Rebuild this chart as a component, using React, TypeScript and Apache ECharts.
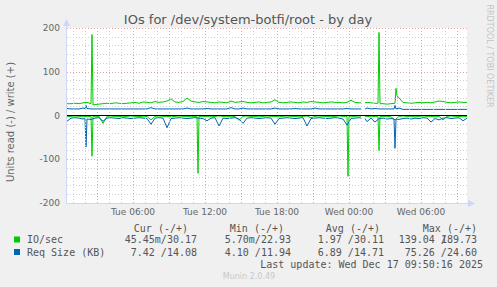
import React, { useEffect, useRef } from "react";
import * as echarts from "echarts";

// time axis in minutes after Tue 00:00; samples every 20 minutes from 00:30 Tue
const T0 = 30;
const STEP = 20;
const X_MIN = 30;
const X_MAX = 2030;

const X_LABEL_TIMES = [360, 720, 1080, 1440, 1800];
const X_LABELS = ["Tue 06:00", "Tue 12:00", "Tue 18:00", "Wed 00:00", "Wed 06:00"];

// IO/sec write (+)
const IO_WRITE: (number | null)[] = [
  27, 27, 28, 27, 29, 30,
  28, 25, 26, 27, 28, 27, 29, 28, 27, 28,
  29, 30, 28, 31, 30, 29, 32, 30, 31, 33, 38, 31, 30, 32, 40,
  33, 31, 30, 32, 31, 30, 29, 31, 30, 29, 33, 30, 31, 32, 30, 29, 30, 31, 29, 30,
  31, 36, 30, 29, 30, 31, 30, 29, 31, 30, 32, 31, 30, 29, 30, 31, 30, 30, 29, 30, 35, 30, 29, 28,
  30, 29, 28, 28, 27, 26, 27, 28, 40, 30, 29, 28, 29, 30, 29, 30, 29, 31, 33, 32, 30, 29, 30, 31, 30, 30,
];
const IO_WRITE_EXTRA: [number, number | null][] = [
  [150, 27], [155, 185], [160, 24],
  [1500, 29], [1510, null], [1520, 29],
  [1585, 28], [1590, 190], [1595, 27],
  [1670, 28], [1675, 62], [1680, 45],
];

// IO/sec read (-)
const IO_READ: (number | null)[] = [
  -3, -2, -1, -2, -3, -2, -2, -3, -2, -18,
  -2, -1, -2, -2, -3, -2, -1, -2, -2, -3, -2,
  -10, -2, -1, -2, -2, -3, -2, -1, -2, -2,
  -3, -2, -1, -2, -2, -3, -2, -1, -2, -2, -3, -2,
  -11, -2, -1, -2, -2, -3, -2, -1, -2, -2, -3, -2, -1, -2, -2, -3, -2, -1,
  -5, -2, -1, -2, -2, -3, -2, -1, -2, -2, -3, -2, -1, -2, -2, -3, -2, -1, -2, -2, -3,
  -10, -2, -1, -2, -2, -3, -2, -1, -2, -2, -3, -2,
  -10, -2, -1, -2, -2, -3, -2,
];
const IO_READ_EXTRA: [number, number | null][] = [
  [150, -2], [155, -93], [160, -2],
  [680, -2], [685, -132], [690, -2],
  [1430, -2], [1435, -139], [1440, -2],
  [1500, -2], [1510, null], [1520, -2],
  [1585, -2], [1590, -80], [1595, -2],
];

// Req Size (KB) write (+)
const REQ_WRITE: (number | null)[] = [
  16, 15, 15, 15, 17, 15, 15, 15, 15, 15,
  15, 15, 15, 15, 15, 15, 15, 15, 15, 15, 15,
  18, 15, 15, 15, 15, 15, 15, 15, 15, 17,
  15, 15, 15, 15, 16, 15, 15, 15, 15, 15, 18, 15,
  15, 17, 15, 15, 15, 15, 15, 15, 15, 17, 15, 15, 15, 15, 16, 15, 15, 15,
  15, 17, 15, 15, 15, 15, 15, 15, 15, 16, 15, 15, 15, 15, 17, 15, 16, 15, 15, 15, 15,
  15, 17, 14, 14, 14, 14, 14, 14, 14, 14, 14, 14,
  14, 14, 14, 14, 14, 14, 14,
];
const REQ_WRITE_EXTRA: [number, number | null][] = [
  [120, 16], [125, 23], [130, 16],
  [1500, 15], [1510, null], [1520, 15],
  [1665, 15], [1670, 23], [1675, 15],
];

// Req Size (KB) read (-)
const REQ_READ: (number | null)[] = [
  -13, -6, -5, -6, -8, -7, -9, -6, -5, -13,
  -6, -5, -6, -7, -5, -6, -7, -6, -5, -6, -7,
  -20, -6, -5, -6, -28, -7, -6, -5, -6, -7,
  -6, -5, -6, -7, -12, -6, -5, -24, -6, -7, -6, -5,
  -8, -18, -6, -5, -6, -7, -6, -5, -6, -20, -7, -6, -5, -6, -7, -6, -5, -24,
  -7, -6, -5, -6, -7, -6, -5, -6, -8, -22, -7, -6, -5, -6, -14, -6, -15, -7, -6, -8,
  -7, -10, -9, -7, -6, -8, -6, -7, -5, -6, -15, -7,
  -10, -6, -5, -7, -6, -5, -12, -6,
];
const REQ_READ_EXTRA: [number, number | null][] = [
  [120, -7], [125, -72], [130, -8],
  [1500, -6], [1510, null], [1520, -7],
  [1665, -8], [1670, -75], [1675, -8],
];

const LEGEND_NAMES = ["IO/sec", "Req Size (KB)"];
const LEGEND_COLORS = ["#00cc00", "#0066b3"];
const LEGEND_HEADERS = ["Cur (-/+)", "Min (-/+)", "Avg (-/+)", "Max (-/+)"];
const CUR_VALUES = ["45.45m/30.17", "7.42 /14.08"];
const MIN_VALUES = ["5.70m/22.93", "4.10 /11.94"];
const AVG_VALUES = ["1.97 /30.11", "6.89 /14.71"];
const MAX_VALUES = [["139.04 /", "189.73"], ["75.26 /", "24.60"]];
const LAST_UPDATE = "Last update: Wed Dec 17 09:50:16 2025";
const TITLE = "IOs for /dev/system-botfi/root - by day";
const Y_NAME = "Units read (-) / write (+)";
const WATERMARK = "RRDTOOL / TOBI OETIKER";
const FOOTER = "Munin 2.0.49";

function merge(base: (number | null)[], extra: [number, number | null][]) {
  const m = new Map<number, number | null>();
  base.forEach((v, i) => m.set(T0 + i * STEP, v));
  extra.forEach(([t, v]) => m.set(t, v));
  return Array.from(m.entries()).sort((a, b) => a[0] - b[0]);
}

const GL = 67, GT = 28, GW = 400, GH = 175;
const FONT = "DejaVu Sans";
const MONO = "DejaVu Sans Mono";
const AXIS_COLOR = "#cfd6f8";

export default function App() {
  const ref = useRef<HTMLDivElement>(null);
  useEffect(() => {
    document.body.style.margin = "0";
    const chart = echarts.init(ref.current!, undefined, { renderer: "svg" });
    const minorX: number[] = [];
    const majorX: number[] = [];
    for (let t = 60; t < X_MAX; t += 60) (t % 180 === 0 ? majorX : minorX).push(t);

    const line = (name: string, data: any, color: string) => ({
      name,
      type: "line",
      data,
      showSymbol: false,
      symbol: "none",
      connectNulls: false,
      z: 3,
      lineStyle: { color, width: 1 },
      itemStyle: { color },
    });

    const colEdges = [197, 291, 384, 477];
    const headEdges = [188, 284, 380, 477];
    const rowsY = [239.5, 252];
    const legendText = (text: string, x: number, y: number, align = "right") => ({
      type: "text",
      style: { text, x, y, align, verticalAlign: "middle", fill: "#555", font: `10px '${MONO}'` },
    });
    const graphics: any[] = [];
    LEGEND_HEADERS.forEach((h, i) => graphics.push(legendText(h, headEdges[i], 228)));
    LEGEND_NAMES.forEach((n, r) => {
      graphics.push({ type: "rect", shape: { x: 14, y: rowsY[r] - 3, width: 6, height: 6 }, style: { fill: LEGEND_COLORS[r] } });
      graphics.push(legendText(n, 27, rowsY[r], "left"));
      graphics.push(legendText(CUR_VALUES[r], colEdges[0], rowsY[r]));
      graphics.push(legendText(MIN_VALUES[r], colEdges[1], rowsY[r]));
      graphics.push(legendText(AVG_VALUES[r], colEdges[2], rowsY[r]));
      const [a, b] = MAX_VALUES[r];
      const overlap = a.length + b.length > 13 ? 6 : 0;
      graphics.push(legendText(b, colEdges[3], rowsY[r]));
      graphics.push(legendText(a, colEdges[3] - b.length * 6.02 + overlap, rowsY[r]));
    });
    graphics.push(legendText(LAST_UPDATE, 483, 264.5));
    graphics.push({
      type: "text",
      style: { text: FOOTER, x: 249, y: 276.5, align: "center", verticalAlign: "middle", fill: "#c8c8c8", font: `8px '${FONT}'` },
    });
    graphics.push({
      type: "text",
      style: { text: TITLE, x: 248, y: 19, align: "center", verticalAlign: "middle", fill: "#555", font: `13px '${FONT}'` },
    });
    graphics.push({
      type: "text", x: 10, y: 122, rotation: Math.PI / 2,
      style: { text: Y_NAME, x: 0, y: 0, align: "center", verticalAlign: "middle", fill: "#666", font: `10px '${FONT}'` },
    });
    graphics.push({
      type: "text", x: 489, y: 56, rotation: -Math.PI / 2,
      style: { text: WATERMARK, x: 0, y: 0, align: "center", verticalAlign: "middle", fill: "#c4c4c4", font: `8px '${FONT}'` },
    });
    // axis lines + arrows
    graphics.push({ type: "line", shape: { x1: GL - 0.5, y1: GT - 5, x2: GL - 0.5, y2: GT + GH }, style: { stroke: AXIS_COLOR, lineWidth: 1 }, z: 10 });
    graphics.push({ type: "line", shape: { x1: GL - 0.5, y1: GT + GH + 0.5, x2: GL + GW + 3, y2: GT + GH + 0.5 }, style: { stroke: AXIS_COLOR, lineWidth: 1 }, z: 10 });
    graphics.push({ type: "polygon", shape: { points: [[GL - 4, GT - 2], [GL + 3, GT - 2], [GL - 0.5, GT - 9]] }, style: { fill: AXIS_COLOR }, z: 10 });
    graphics.push({ type: "polygon", shape: { points: [[GL + GW + 1, GT + GH - 3], [GL + GW + 1, GT + GH + 4], [GL + GW + 8, GT + GH + 0.5]] }, style: { fill: AXIS_COLOR }, z: 10 });

    chart.setOption({
      animation: false,
      backgroundColor: "#f0f0f0",
      grid: { left: GL, top: GT, width: GW, height: GH, show: true, backgroundColor: "#ffffff", borderWidth: 0 },
      xAxis: {
        type: "value",
        min: X_MIN,
        max: X_MAX,
        axisLine: { show: false },
        axisTick: { show: false },
        splitLine: { show: false },
        axisLabel: {
          customValues: X_LABEL_TIMES,
          formatter: (v: number) => {
            const i = X_LABEL_TIMES.indexOf(v);
            return i >= 0 ? X_LABELS[i] : "";
          },
          color: "#666",
          fontFamily: FONT,
          fontSize: 9,
          margin: 4,
        },
      },
      yAxis: {
        type: "value",
        min: -200,
        max: 200,
        interval: 100,
        axisLine: { show: false },
        axisTick: { show: false },
        axisLabel: { color: "#666", fontFamily: FONT, fontSize: 9, margin: 7 },
        splitLine: { show: true, lineStyle: { color: "#e6a3a3", width: 1, type: [1, 2] } },
        minorTick: { show: false, splitNumber: 5 },
        minorSplitLine: { show: true, lineStyle: { color: "#cfcfcf", width: 1, type: [1, 2] } },
      },
      series: [
        {
          type: "line", data: [], z: 1, silent: true,
          markLine: {
            silent: true, symbol: ["none", "none"], label: { show: false },
            lineStyle: { color: "#cfcfcf", width: 1, type: [1, 2] },
            data: minorX.map((x) => ({ xAxis: x })),
          },
        },
        {
          type: "line", data: [], z: 2, silent: true,
          markLine: {
            silent: true, symbol: ["none", "none"], label: { show: false },
            lineStyle: { color: "#e6a3a3", width: 1, type: [1, 2] },
            data: majorX.map((x) => ({ xAxis: x })),
          },
        },
        line("IO/sec read", merge(IO_READ, IO_READ_EXTRA), LEGEND_COLORS[0]),
        line("IO/sec write", merge(IO_WRITE, IO_WRITE_EXTRA), LEGEND_COLORS[0]),
        line("Req read", merge(REQ_READ, REQ_READ_EXTRA), LEGEND_COLORS[1]),
        line("Req write", merge(REQ_WRITE, REQ_WRITE_EXTRA), LEGEND_COLORS[1]),
        {
          type: "line", data: [], z: 4, silent: true,
          markLine: {
            silent: true, symbol: ["none", "none"], label: { show: false },
            lineStyle: { color: "#000000", width: 1, type: "solid" },
            data: [{ yAxis: 0 }],
          },
        },
      ],
      graphic: graphics,
    });
    return () => chart.dispose();
  }, []);
  return <div ref={ref} style={{ width: 497, height: 287 }} />;
}
